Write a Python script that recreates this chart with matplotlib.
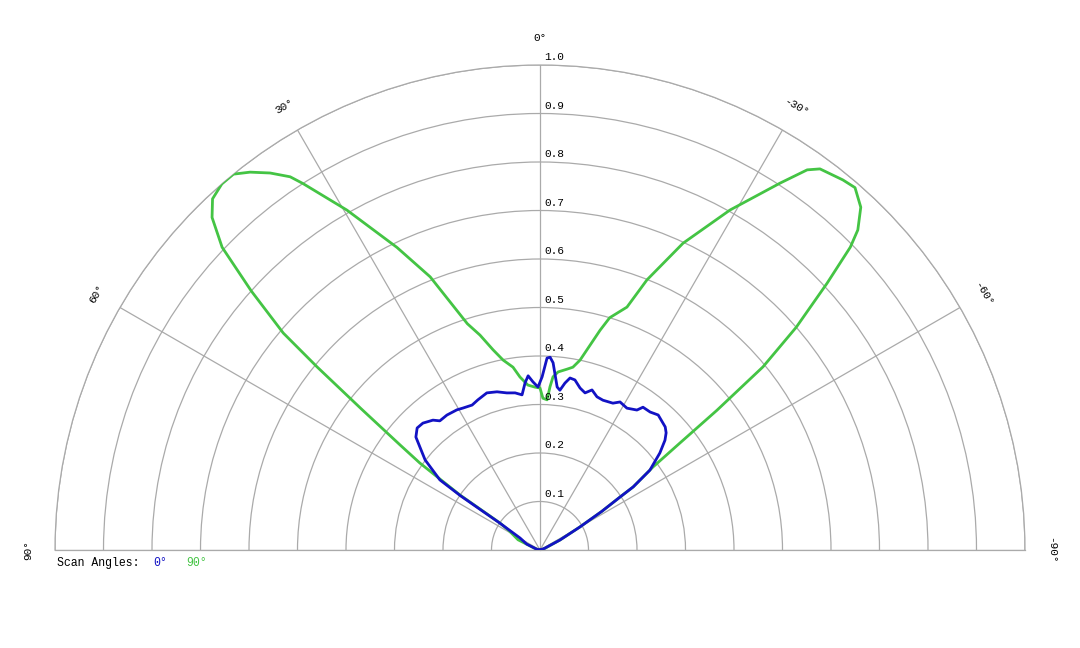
import numpy as np
import matplotlib.pyplot as plt

# scan 0 deg (blue), angle in degrees, 0 = up, positive to the left
theta_0 = [90, 75, 66, 59, 56.2, 55.7, 55, 51.9, 49.5, 47.7, 45.2, 42.7, 39.5, 37.8, 34.6,
           30.7, 28.5, 25.1, 22.5, 18.7, 15.2, 11.9, 9.0, 6.6, 5.1, 3.9, 2.4, 0.7,
           -0.7, -2.1, -3.0, -4.0, -6.0, -7.1, -8.5, -9.9, -11.6, -13.9, -16.0, -18.0,
           -20.4, -22.8, -26.4, -28.4, -31.5, -34.7, -35.8, -38.6, -41.2, -45.5, -47.1,
           -48.7, -51, -54, -55.9, -56.5, -58, -60, -63.4, -70, -90]
r_0 = [0.0, 0.008, 0.03, 0.048, 0.10, 0.198, 0.252, 0.301, 0.325, 0.346, 0.357, 0.356, 0.347,
       0.337, 0.338, 0.336, 0.333, 0.330, 0.335, 0.342, 0.338, 0.331, 0.328, 0.322, 0.346,
       0.360, 0.347, 0.336,
       0.357, 0.396, 0.398, 0.387, 0.338, 0.332, 0.348, 0.360, 0.358, 0.344, 0.337, 0.347,
       0.337, 0.335, 0.338, 0.347, 0.343, 0.351, 0.363, 0.364, 0.370, 0.362, 0.355,
       0.343, 0.318, 0.28, 0.232, 0.198, 0.15, 0.095, 0.046, 0.01, 0.0]

# scan 90 deg (green)
theta_90 = [90, 80, 72, 65, 58, 56, 55.5, 54.1, 53.1, 51.7, 50.6, 49.8, 48.1, 46.4, 44.6, 43,
            41, 39.2, 37.5, 35.6, 33.8, 32.9, 29.6, 25.3, 21.9, 17.8, 15.6, 13.2, 11.0, 8.4,
            6.6, 4.2, 1.8, 0, -1.1, -2.7, -3.5, -4.3, -5.8, -8.5, -10.2, -11.9, -13.2,
            -15.3, -16.7, -19.7, -21.6, -25, -29.2, -33.2, -35.1, -36.3, -39.3, -41, -43.1,
            -44.8, -45.7, -47.1, -49, -50.6, -51.7, -52.6, -53.7, -55.9, -56.5, -58, -60,
            -63.4, -70, -80, -90]
r_90 = [0.0, 0.004, 0.012, 0.05, 0.075, 0.10, 0.20, 0.306, 0.361, 0.47, 0.595, 0.693, 0.80,
        0.905, 0.963, 0.99, 1.0, 1.0, 0.982, 0.956, 0.926, 0.90, 0.806, 0.69, 0.607, 0.49,
        0.46, 0.424, 0.399, 0.381, 0.359, 0.341, 0.336, 0.334, 0.313, 0.310, 0.337, 0.358,
        0.369, 0.377, 0.383, 0.400, 0.424, 0.47, 0.50, 0.532, 0.599, 0.698, 0.803, 0.904,
        0.958, 0.975, 0.986, 0.99, 0.968, 0.93, 0.894, 0.808, 0.70, 0.595, 0.465, 0.363,
        0.289, 0.232, 0.198, 0.15, 0.095, 0.046, 0.012, 0.004, 0.0]

ring_values = [0.1, 0.2, 0.3, 0.4, 0.5, 0.6, 0.7, 0.8, 0.9, 1.0]
ring_labels = ["0.1", "0.2", "0.3", "0.4", "0.5", "0.6", "0.7", "0.8", "0.9", "1.0"]
angle_ticks = [90, 60, 30, 0, -30, -60, -90]
series_names = ["0°", "90°"]

mono = ["Liberation Mono", "DejaVu Sans Mono"]
grid_col = "#aaaaaa"
blue = "#1212c4"
green = "#44c444"

W, H = 1080, 648
cx, cy, R = 540, 550, 485   # centre and outer radius in pixels

fig = plt.figure(figsize=(W / 100, H / 100), dpi=100)
# the half-polar wedge sits in the middle half of a square box
box = 2 * R
ax = fig.add_axes([(cx - R) / W, (H - (cy - R / 2 + R)) / H, box / W, box / H],
                  projection="polar")
ax.set_theta_zero_location("N")
ax.set_thetamin(-90)
ax.set_thetamax(90)
ax.set_ylim(0, 1)

ax.set_thetagrids(angle_ticks)
ax.set_rgrids(ring_values)
ax.set_xticklabels([])
ax.set_yticklabels([])
ax.grid(True, color=grid_col, linewidth=0.9)
for s in ax.spines.values():
    s.set_color(grid_col)
    s.set_linewidth(0.9)
ax.tick_params(length=0)

ax.plot(np.radians(theta_90), r_90, color=green, linewidth=2,
        solid_joinstyle="round", zorder=3)
ax.plot(np.radians(theta_0), r_0, color=blue, linewidth=2,
        solid_joinstyle="round", zorder=4)

# ring labels along the 0 deg spoke
for v, lab in zip(ring_values, ring_labels):
    ax.annotate(lab, xy=(0, v), xytext=(3, 2), textcoords="offset points",
                ha="left", va="bottom", fontsize=8, family=mono)

# angle labels outside the outer ring
for a in angle_ticks:
    ax.text(np.radians(a), 1.055, str(a) + "°", rotation=a, rotation_mode="anchor",
            ha="center", va="center", fontsize=8, family=mono, clip_on=False)

# legend line
y_leg = 1 - 563 / H
fig.text(57 / W, y_leg, "Scan Angles:", fontsize=8.3, family=mono, va="center")
fig.text(153 / W, y_leg, series_names[0], fontsize=8.3, family=mono, va="center", color=blue)
fig.text(186 / W, y_leg, series_names[1], fontsize=8.3, family=mono, va="center", color=green)

fig.savefig("out.png", dpi=100)
